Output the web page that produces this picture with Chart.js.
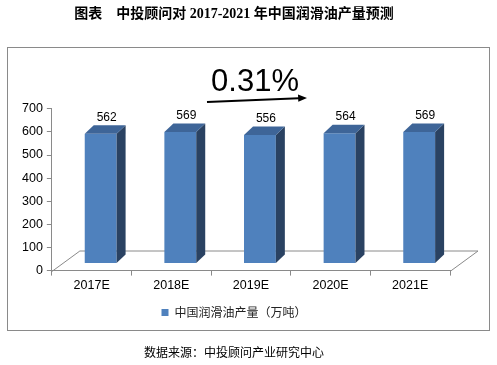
<!DOCTYPE html>
<html>
<head>
<meta charset="utf-8">
<script src="https://cdn.jsdelivr.net/npm/chart.js@4.4.1/dist/chart.umd.min.js"></script>
<style>
  html, body { margin: 0; padding: 0; background: #fff; }
  #wrap { width: 497px; height: 365px; }
</style>
</head>
<body>
<div id="wrap"><canvas id="chart-runsuyou"></canvas></div>
<script>
// data
const categories = ['2017E', '2018E', '2019E', '2020E', '2021E'];
const produksi = [562, 569, 556, 564, 569];
const seriesName = '中国润滑油产量（万吨）';
const yTicks = [0, 100, 200, 300, 400, 500, 600, 700];
const growthText = '0.31%';

const warnaDepan = '#4F81BD';
const warnaSamping = '#2A4262';
const warnaAtas = '#3E6598';

// 3d bar / floor
const floorDx = 28, floorDy = 20.5;
const barDx = 9, barDy = 7;
const depthDx = 9, depthDy = 8.5;

const bar3d = {
  id: 'bar3d',
  beforeDraw(chart) {
    const ctx = chart.ctx;
    ctx.save();
    ctx.fillStyle = '#fff';
    ctx.fillRect(0, 0, chart.width, chart.height);
    // bingkai
    ctx.strokeStyle = '#8a8a8a';
    ctx.lineWidth = 1;
    ctx.strokeRect(7.5, 47.5, 482, 283);
    ctx.restore();
  },
  beforeDatasetsDraw(chart) {
    const { ctx, chartArea: a } = chart;
    const y0 = Math.round(a.bottom) + 0.5;
    ctx.save();
    ctx.strokeStyle = '#8a8a8a';
    ctx.lineWidth = 1;
    ctx.beginPath();
    ctx.moveTo(a.left, y0);
    ctx.lineTo(a.left + floorDx, y0 - floorDy);
    ctx.lineTo(a.right + floorDx, y0 - floorDy);
    ctx.lineTo(a.right, y0);
    ctx.stroke();
    ctx.restore();

    ctx.save();
    ctx.translate(barDx, -barDy);
  },
  afterDatasetsDraw(chart) {
    const ctx = chart.ctx;
    chart.getDatasetMeta(0).data.forEach((bar, i) => {
      const l = bar.x - bar.width / 2, r = bar.x + bar.width / 2;
      const t = bar.y, b = bar.base;
      // samping
      ctx.fillStyle = warnaSamping;
      ctx.beginPath();
      ctx.moveTo(r, t);
      ctx.lineTo(r + depthDx, t - depthDy);
      ctx.lineTo(r + depthDx, b - depthDy);
      ctx.lineTo(r, b);
      ctx.closePath();
      ctx.fill();
      // atas
      ctx.fillStyle = warnaAtas;
      ctx.beginPath();
      ctx.moveTo(l, t);
      ctx.lineTo(r, t);
      ctx.lineTo(r + depthDx, t - depthDy);
      ctx.lineTo(l + depthDx, t - depthDy);
      ctx.closePath();
      ctx.fill();
      // label nilai
      ctx.fillStyle = '#000';
      ctx.font = '12px "Liberation Sans", Arial, sans-serif';
      ctx.textAlign = 'center';
      ctx.textBaseline = 'bottom';
      ctx.fillText(String(produksi[i]), bar.x + 6, t - depthDy - 2);
    });
    ctx.restore();
  },
  afterDraw(chart) {
    const ctx = chart.ctx;
    ctx.save();
    // 0.31% + panah
    ctx.fillStyle = '#000';
    ctx.font = '31px "Liberation Sans", Arial, sans-serif';
    ctx.textAlign = 'center';
    ctx.textBaseline = 'middle';
    ctx.fillText(growthText, 255, 82);

    ctx.strokeStyle = '#000';
    ctx.lineWidth = 2;
    ctx.beginPath();
    ctx.moveTo(207, 102);
    ctx.lineTo(299, 98.3);
    ctx.stroke();
    ctx.beginPath();
    ctx.moveTo(307, 98);
    ctx.lineTo(298, 94.5);
    ctx.lineTo(298.3, 101.8);
    ctx.closePath();
    ctx.fill();
    ctx.restore();
  }
};

let ctx = document.getElementById('chart-runsuyou').getContext('2d');

let barChart = new Chart(ctx, {
  type: 'bar',
  data: {
    labels: categories,
    datasets: [{
      label: seriesName,
      data: produksi,
      backgroundColor: warnaDepan,
      borderWidth: 0,
      categoryPercentage: 1,
      barPercentage: 0.4
    }]
  },
  options: {
    responsive: true,
    maintainAspectRatio: false,
    animation: false,
    devicePixelRatio: 1,
    layout: { padding: { left: 18, right: 47, top: 0, bottom: 0 } },
    scales: {
      x: {
        grid: { drawOnChartArea: false, tickLength: 5, color: '#8a8a8a' },
        border: { color: '#8a8a8a' },
        ticks: { color: '#000', padding: 2, font: { size: 12.5, family: '"Liberation Sans", Arial, sans-serif' } }
      },
      y: {
        min: 0,
        max: 700,
        afterBuildTicks: (axis) => { axis.ticks = yTicks.map(v => ({ value: v })); },
        grid: { drawOnChartArea: false, tickLength: 5, color: '#8a8a8a' },
        border: { color: '#8a8a8a' },
        ticks: { color: '#000', padding: 4, font: { size: 12.5, family: '"Liberation Sans", Arial, sans-serif' } }
      }
    },
    plugins: {
      title: {
        display: true,
        text: '图表　中投顾问对 2017-2021 年中国润滑油产量预测',
        color: '#000',
        font: { size: 14, weight: 'bold', family: '"Liberation Serif", "Noto Sans CJK SC", serif' },
        padding: { top: 6, bottom: 86 }
      },
      legend: {
        position: 'bottom',
        labels: {
          boxWidth: 7,
          boxHeight: 7,
          padding: 12,
          color: '#222',
          font: { size: 12, family: '"Noto Sans CJK SC", sans-serif' }
        }
      },
      subtitle: {
        display: true,
        position: 'bottom',
        text: '数据来源：中投顾问产业研究中心',
        color: '#000',
        font: { size: 12, family: '"Noto Sans CJK SC", sans-serif' },
        padding: { top: 17, bottom: 5 }
      },
      tooltip: { enabled: false }
    }
  },
  plugins: [bar3d]
});
</script>
</body>
</html>
